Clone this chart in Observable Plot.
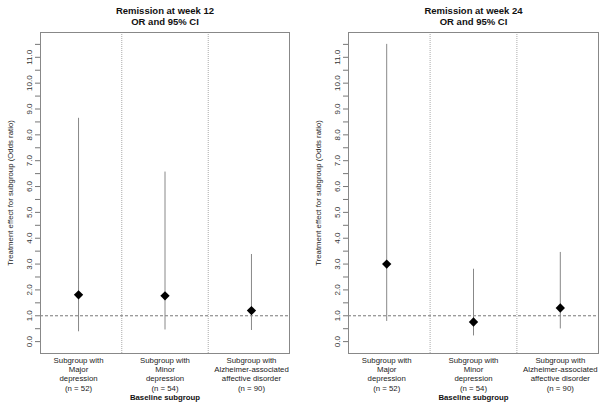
<!DOCTYPE html>
<html>
<head>
<meta charset="utf-8">
<script src="https://cdn.jsdelivr.net/npm/d3@7"></script>
<script src="https://cdn.jsdelivr.net/npm/@observablehq/plot@0.6"></script>
<style>
  html, body { margin: 0; padding: 0; background: #fff; }
  #wrap { position: relative; width: 603px; height: 407px; overflow: hidden; font-family: "Liberation Sans", Arial, sans-serif; }
  #wrap svg { position: absolute; top: 0; }
</style>
</head>
<body>
<div id="wrap"></div>
<script>
// ---- data ----
const categories = [
  "Subgroup with\nMajor\ndepression\n(n = 52)",
  "Subgroup with\nMinor\ndepression\n(n = 54)",
  "Subgroup with\nAlzheimer-associated\naffective disorder\n(n = 90)"
];
const titles12 = ["Remission at week 12", "OR and 95% CI"];
const titles24 = ["Remission at week 24", "OR and 95% CI"];
const week12_or = [1.81, 1.77, 1.20];
const week12_lo = [0.38, 0.45, 0.43];
const week12_hi = [8.64, 6.56, 3.37];
const week24_or = [3.00, 0.76, 1.30];
const week24_lo = [0.78, 0.22, 0.49];
const week24_hi = [11.50, 2.80, 3.45];
const yTicks = d3.range(0, 11.51, 0.5);
const dividers = [1.5, 2.5];
const refLine = [1];
const yLabel = "Treatment effect for subgroup (Odds ratio)";
const xLabel = "Baseline subgroup";

function panel(titles, or, lo, hi, left, width, ml, mr) {
  const data = categories.map((c, i) => ({pos: i + 1, or: or[i], lo: lo[i], hi: hi[i]}));
  const svg = Plot.plot({
    width, height: 407,
    marginTop: 32, marginBottom: 54, marginLeft: ml, marginRight: mr,
    style: {fontFamily: "Liberation Sans, Arial, sans-serif", fontSize: "7.8px", background: "white"},
    x: {domain: [0.56, 3.44]},
    y: {domain: [-0.46, 11.96]},
    marks: [
      Plot.ruleX(dividers, {stroke: "#aaa", strokeDasharray: "1,1"}),
      Plot.ruleY(refLine, {stroke: "#555", strokeDasharray: "3,2", strokeWidth: 0.8}),
      Plot.ruleX(data, {x: "pos", y1: "lo", y2: "hi", stroke: "#888", strokeWidth: 1}),
      Plot.dot(data, {x: "pos", y: "or", symbol: "diamond2", r: 4.2, fill: "black", stroke: "none"}),
      Plot.frame({stroke: "#888"}),
      Plot.axisY({ticks: yTicks, tickSize: 5, tickFormat: () => "", label: null, stroke: "#777"}),
      Plot.text(yTicks.filter(Number.isInteger), {frameAnchor: "left", y: d => d, text: d => d.toFixed(1), rotate: -90, dx: -11, textAnchor: "middle", lineAnchor: "middle", fill: "#333", fontSize: 8}),
      Plot.text([yLabel], {frameAnchor: "left", text: d => d, rotate: -90, dx: -30, textAnchor: "middle", lineAnchor: "middle", fill: "#222"}),
      Plot.axisX({ticks: [1, 2, 3], tickSize: 0, tickPadding: 3, tickFormat: d => categories[d - 1], label: null, lineHeight: 1.18, fill: "#222"}),
      Plot.text([xLabel], {frameAnchor: "bottom", text: d => d, dy: 44, fontWeight: "bold", fill: "#111", lineAnchor: "middle"}),
      Plot.text([titles[0]], {frameAnchor: "top", text: d => d, dy: -22, fontWeight: "bold", fontSize: 9.5, fill: "#111", lineAnchor: "middle"}),
      Plot.text([titles[1]], {frameAnchor: "top", text: d => d, dy: -11, fontWeight: "bold", fontSize: 9.5, fill: "#111", lineAnchor: "middle"})
    ]
  });
  svg.style.left = left + "px";
  return svg;
}

const wrap = document.getElementById("wrap");
wrap.appendChild(panel(titles12, week12_or, week12_lo, week12_hi, 0, 301, 40, 12));
wrap.appendChild(panel(titles24, week24_or, week24_lo, week24_hi, 301, 302, 47, 5));
</script>
</body>
</html>
